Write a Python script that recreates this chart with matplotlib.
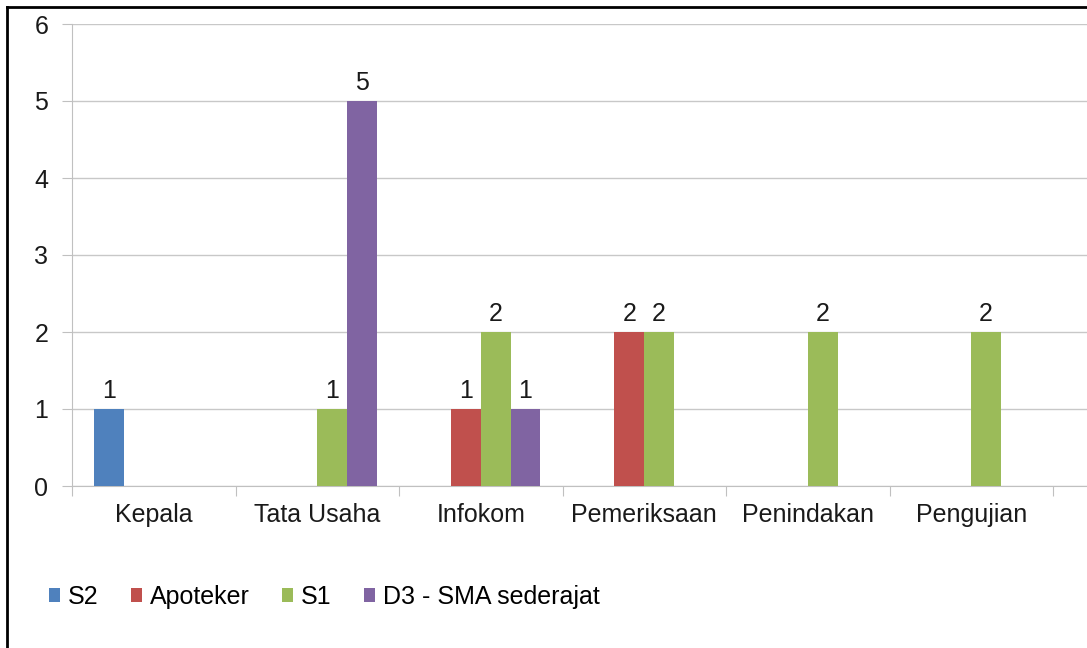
import numpy as np
import matplotlib
matplotlib.use('Agg')
import matplotlib.pyplot as plt
from matplotlib.lines import Line2D
from matplotlib.patches import Patch

# Data
kategori = ['Kepala', 'Tata Usaha', 'Infokom', 'Pemeriksaan', 'Penindakan', 'Pengujian']
seri = ['S2', 'Apoteker', 'S1', 'D3 - SMA sederajat']
s2 = [1, 0, 0, 0, 0, 0]
apoteker = [0, 0, 1, 2, 0, 0]
s1 = [0, 1, 2, 2, 2, 2]
d3 = [0, 5, 1, 0, 0, 0]
warna = ['#4F81BD', '#C0504D', '#9BBB59', '#8064A2']

plt.rcParams['font.family'] = ['Liberation Sans', 'DejaVu Sans']
fs = 18

W, H = 1087, 648
fig = plt.figure(figsize=(W / 100, H / 100), dpi=100)
ax = fig.add_axes([72 / W, (H - 486) / H, (W - 72) / W, (486 - 24) / H])

x = np.arange(len(kategori))
lebar = 0.182
nilai = [s2, apoteker, s1, d3]
for i, (vals, c) in enumerate(zip(nilai, warna)):
    pos = x + (i - 1.5) * lebar
    ax.bar(pos, vals, width=lebar, color=c, zorder=3)
    for p, v in zip(pos, vals):
        if v > 0:
            ax.annotate(str(v), (p, v), xytext=(0, 4), textcoords='offset points',
                        ha='center', va='bottom', fontsize=fs, color='#1a1a1a')

ax.set_xlim(-0.5, 5.5 + 34 / 163.5)
ax.set_ylim(0, 6)
ax.set_yticks(range(7))
ax.yaxis.grid(True, color='#C8C8C8', linewidth=1, zorder=0)
ax.set_xticks(np.arange(-0.5, 6, 1), minor=False)
ax.set_xticklabels([])
ax.set_xticks(x, minor=True)
ax.set_xticklabels(kategori, minor=True, fontsize=fs, color='#1a1a1a')
ax.tick_params(axis='x', which='minor', length=0, pad=12)
ax.tick_params(axis='x', which='major', length=7, color='#C0C0C0', direction='out')
ax.tick_params(axis='y', length=7, color='#C0C0C0', labelsize=fs, labelcolor='#1a1a1a', pad=10)
for s in ['top', 'right']:
    ax.spines[s].set_visible(False)
ax.spines['left'].set_color('#C0C0C0')
ax.spines['bottom'].set_color('#C0C0C0')

handles = [Patch(facecolor=c, label=l) for c, l in zip(warna, seri)]
fig.legend(handles=handles, loc='center left', bbox_to_anchor=(49 / W, (H - 597) / H),
           ncol=4, frameon=False, fontsize=fs, handlelength=0.45, handleheight=0.45,
           handletextpad=0.3, columnspacing=1.3, borderpad=0, borderaxespad=0)

# bingkai
fig.add_artist(Line2D([7 / W, 7 / W], [0, 1 - 7 / H], color='black', linewidth=2, transform=fig.transFigure))
fig.add_artist(Line2D([7 / W, 1], [1 - 7 / H, 1 - 7 / H], color='black', linewidth=2, transform=fig.transFigure))

fig.savefig('out.png', dpi=100)
